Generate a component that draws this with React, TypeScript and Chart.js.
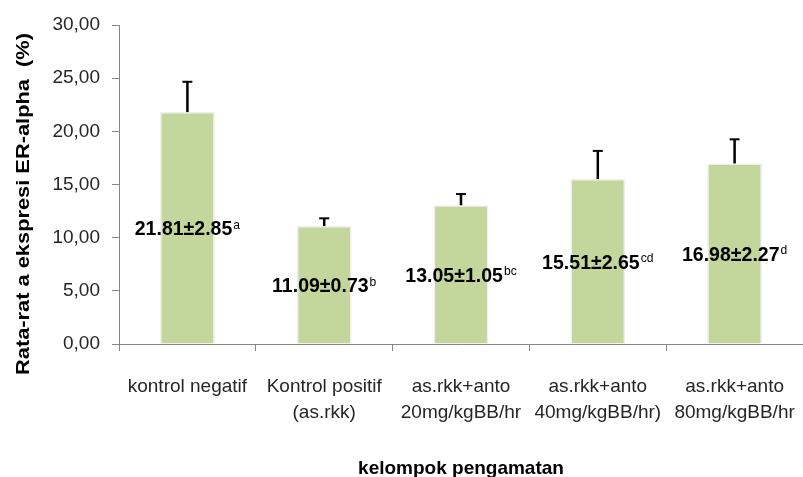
import React, { useEffect, useRef } from 'react';
import { Chart, registerables } from 'chart.js';

Chart.register(...registerables);

const categories: string[][] = [
  ['kontrol negatif'],
  ['Kontrol positif', '(as.rkk)'],
  ['as.rkk+anto', '20mg/kgBB/hr'],
  ['as.rkk+anto', '40mg/kgBB/hr)'],
  ['as.rkk+anto', '80mg/kgBB/hr'],
];
const means: number[] = [21.81, 11.09, 13.05, 15.51, 16.98];
const sds: number[] = [2.85, 0.73, 1.05, 2.65, 2.27];
const letters: string[] = ['a', 'b', 'bc', 'cd', 'd'];
const yMin = 0;
const yMax = 30;
const yStep = 5;
const yTitle = 'Rata-rat a ekspresi ER-alpha  (%)';
const xTitle = 'kelompok pengamatan';

const FAMILY = "'Liberation Sans', Arial, sans-serif";
const AXIS_COLOR = '#868686';
const TEXT_COLOR = '#262626';

const overlayPlugin = {
  id: 'overlay',
  afterDatasetsDraw(chart: any) {
    const ctx: CanvasRenderingContext2D = chart.ctx;
    const yScale = chart.scales.y;
    const meta = chart.getDatasetMeta(0);
    ctx.save();
    meta.data.forEach((bar: any, i: number) => {
      const x = bar.x;
      const yTop = yScale.getPixelForValue(means[i]);
      const yErr = yScale.getPixelForValue(means[i] + sds[i]);
      // error bar (upper only)
      ctx.strokeStyle = '#000000';
      ctx.lineWidth = 2.5;
      ctx.beginPath();
      ctx.moveTo(x, yTop);
      ctx.lineTo(x, yErr);
      ctx.stroke();
      ctx.lineWidth = 2;
      ctx.beginPath();
      ctx.moveTo(x - 5, yErr);
      ctx.lineTo(x + 5, yErr);
      ctx.stroke();

      // value label at bar middle
      const mid = (bar.y + bar.base) / 2;
      const main = means[i].toFixed(2) + '\u00B1' + sds[i].toFixed(2);
      const sup = letters[i];
      const sx = 0.93;
      const mainFont = `bold 21px ${FAMILY}`;
      const supFont = `13px ${FAMILY}`;
      ctx.font = mainFont;
      const wMain = ctx.measureText(main).width * sx;
      ctx.font = supFont;
      const wSup = ctx.measureText(sup).width * sx;
      const total = wMain + wSup + 1;
      const left = x - total / 2;
      const baseline = mid + 7.5;
      ctx.fillStyle = '#000000';
      ctx.textBaseline = 'alphabetic';
      ctx.textAlign = 'left';
      ctx.save();
      ctx.translate(left, baseline);
      ctx.scale(sx, 1);
      ctx.font = mainFont;
      ctx.fillText(main, 0, 0);
      ctx.restore();
      ctx.save();
      ctx.translate(left + wMain + 1, baseline - 6.5);
      ctx.scale(sx, 1);
      ctx.font = supFont;
      ctx.fillText(sup, 0, 0);
      ctx.restore();
    });

    // Y axis title
    ctx.save();
    ctx.font = `bold 19px ${FAMILY}`;
    const wy = ctx.measureText(yTitle).width;
    ctx.translate(24, 204);
    ctx.rotate(-Math.PI / 2);
    ctx.scale(342 / wy, 1);
    ctx.textAlign = 'center';
    ctx.textBaseline = 'middle';
    ctx.fillStyle = '#000000';
    ctx.fillText(yTitle, 0, 0);
    ctx.restore();

    // X axis title
    ctx.save();
    ctx.font = `bold 19px ${FAMILY}`;
    ctx.textAlign = 'center';
    ctx.textBaseline = 'alphabetic';
    ctx.fillStyle = '#000000';
    const area = chart.chartArea;
    ctx.fillText(xTitle, (area.left + area.right) / 2, 474);
    ctx.restore();

    ctx.restore();
  },
};

export default function App() {
  const canvasRef = useRef<HTMLCanvasElement | null>(null);

  useEffect(() => {
    if (!canvasRef.current) return;
    const chart = new Chart(canvasRef.current, {
      type: 'bar',
      data: {
        labels: categories,
        datasets: [
          {
            data: means,
            backgroundColor: '#c3d69b',
            borderColor: '#eeeeee',
            borderWidth: 1.5,
            barPercentage: 0.4,
            categoryPercentage: 1,
          },
        ],
      },
      options: {
        animation: false,
        responsive: false,
        devicePixelRatio: 1,
        layout: { padding: { top: 25, left: 0, right: 0, bottom: 0 } },
        plugins: {
          legend: { display: false },
          tooltip: { enabled: false },
        },
        scales: {
          x: {
            offset: true,
            grid: {
              display: true,
              drawOnChartArea: false,
              drawTicks: true,
              tickLength: 7,
              color: AXIS_COLOR,
              offset: true,
            },
            border: { display: true, color: AXIS_COLOR, width: 1 },
            ticks: {
              font: { family: FAMILY, size: 19, lineHeight: 1.37 },
              color: TEXT_COLOR,
              padding: 22.5,
              maxRotation: 0,
              minRotation: 0,
              autoSkip: false,
            },
            afterFit: (s: any) => {
              s.height = 133;
              s.paddingLeft = 0;
              s.paddingRight = 0;
            },
          },
          y: {
            min: yMin,
            max: yMax,
            grid: {
              display: true,
              drawOnChartArea: false,
              drawTicks: true,
              tickLength: 7,
              color: AXIS_COLOR,
            },
            border: { display: true, color: AXIS_COLOR, width: 1 },
            ticks: {
              stepSize: yStep,
              font: { family: FAMILY, size: 19 },
              color: TEXT_COLOR,
              padding: 12,
              callback: (v: any) => Number(v).toFixed(2).replace('.', ','),
            },
            afterFit: (s: any) => {
              s.width = 119;
            },
          },
        },
      },
      plugins: [overlayPlugin],
    });
    return () => chart.destroy();
  }, []);

  return (
    <div style={{ position: 'absolute', left: 0, top: 0, width: 803, height: 477, background: '#ffffff' }}>
      <canvas ref={canvasRef} width={803} height={477} style={{ display: 'block' }} />
    </div>
  );
}
